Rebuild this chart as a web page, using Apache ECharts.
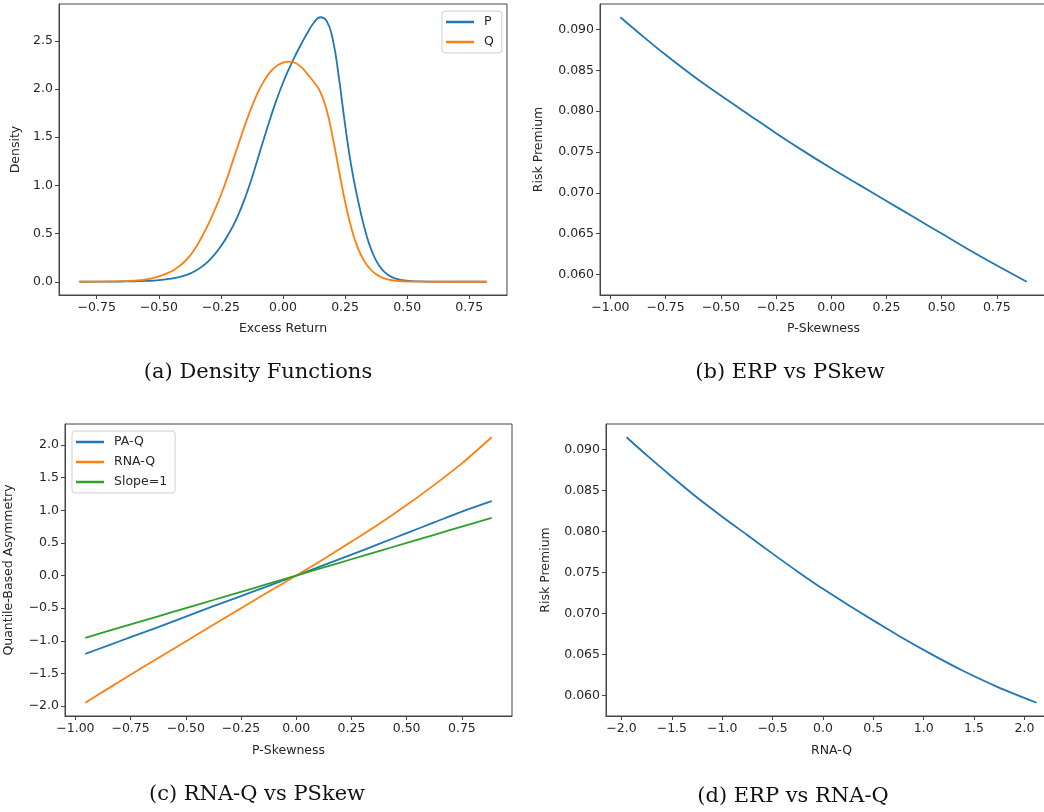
<!DOCTYPE html>
<html>
<head>
<meta charset="utf-8">
<script src="https://cdn.jsdelivr.net/npm/echarts@6/dist/echarts.min.js"></script>
<style>
    html, body { margin: 0; background: #fff; }
    #chart { width: 1044px; height: 812px; }
</style>
</head>
<body>
<div id="chart"></div>
<script>
// (a) density functions
const excessReturn = [-0.82, -0.75, -0.7, -0.65, -0.6, -0.55, -0.5,
    -0.45, -0.425, -0.4, -0.375, -0.35, -0.325, -0.3, -0.275, -0.25, -0.225, -0.2, -0.175, -0.15, -0.125, -0.1, -0.075, -0.05, -0.025,
    0, 0.025, 0.05, 0.075, 0.1, 0.125, 0.15, 0.175, 0.2, 0.225, 0.25, 0.275, 0.3, 0.325, 0.35, 0.375, 0.4, 0.425, 0.45,
    0.5, 0.55, 0.6, 0.65, 0.7, 0.75, 0.82];
const densityP = [0.0, 0.001, 0.002, 0.003, 0.005, 0.009, 0.017,
    0.033, 0.045, 0.062, 0.085, 0.117, 0.16, 0.215, 0.285, 0.37, 0.47, 0.585, 0.725, 0.89, 1.08, 1.29, 1.5, 1.705, 1.895,
    2.065, 2.215, 2.35, 2.475, 2.59, 2.69, 2.745, 2.71, 2.52, 2.12, 1.63, 1.2, 0.87, 0.59, 0.37, 0.22, 0.125, 0.068, 0.036,
    0.011, 0.004, 0.002, 0.001, 0.0, 0.0, 0.0];
const densityQ = [0.0, 0.001, 0.003, 0.006, 0.012, 0.026, 0.055,
    0.107, 0.148, 0.2, 0.27, 0.36, 0.475, 0.6, 0.745, 0.9, 1.075, 1.27, 1.46, 1.65, 1.82, 1.97, 2.09, 2.18, 2.24,
    2.275, 2.285, 2.27, 2.225, 2.15, 2.07, 1.97, 1.79, 1.5, 1.16, 0.83, 0.56, 0.36, 0.225, 0.135, 0.078, 0.043, 0.023, 0.012,
    0.003, 0.001, 0.0, 0.0, 0.0, 0.0, 0.0];

// (b), (c), (d) share the same sweep over P-skewness
const pSkew = [-0.955, -0.85, -0.75, -0.625, -0.5, -0.375, -0.25, -0.125, 0, 0.125, 0.25, 0.375, 0.5, 0.625, 0.75, 0.885];
const riskPremium = [0.0915, 0.0891, 0.0869, 0.0843, 0.0819, 0.0796, 0.0773, 0.0751, 0.0730, 0.0710, 0.0690, 0.0670, 0.0650, 0.0630, 0.0611, 0.0591];
const paQ = [-1.20, -1.07, -0.945, -0.79, -0.63, -0.47, -0.315, -0.157, 0, 0.16, 0.32, 0.485, 0.65, 0.815, 0.98, 1.14];
const rnaQ = [-1.95, -1.73, -1.52, -1.265, -1.01, -0.755, -0.50, -0.25, 0, 0.255, 0.52, 0.79, 1.08, 1.39, 1.72, 2.12];
const slopeOne = [-0.955, -0.85, -0.75, -0.625, -0.5, -0.375, -0.25, -0.125, 0, 0.125, 0.25, 0.375, 0.5, 0.625, 0.75, 0.885];

// tick labels
const densityXTicks = [-0.75, -0.5, -0.25, 0, 0.25, 0.5, 0.75];
const densityYTicks = [0, 0.5, 1.0, 1.5, 2.0, 2.5];
const skewTicks = [-1.0, -0.75, -0.5, -0.25, 0, 0.25, 0.5, 0.75];
const premiumTicks = [0.060, 0.065, 0.070, 0.075, 0.080, 0.085, 0.090];
const asymTicks = [-2.0, -1.5, -1.0, -0.5, 0, 0.5, 1.0, 1.5, 2.0];
const rnaTicks = [-2.0, -1.5, -1.0, -0.5, 0, 0.5, 1.0, 1.5, 2.0];

const FONT = 'DejaVu Sans';
const TEXT = '#262626';
const SPINE = '#444';
const BLUE = '#1f77b4', ORANGE = '#ff7f0e', GREEN = '#2ca02c';

// matplotlib style: 5% margin around the data
function padRange(values) {
    let lo = Math.min.apply(null, values);
    let hi = Math.max.apply(null, values);
    let pad = (hi - lo) * 0.05;
    return [lo - pad, hi + pad];
}

function fmt(v, digits) {
    return v.toFixed(digits).replace('-', '\u2212');
}

function pairs(xs, ys) {
    return xs.map(function (x, i) { return [x, ys[i]]; });
}

function makeAxis(gridIndex, range, ticks, digits, name, nameGap) {
    return {
        type: 'value',
        gridIndex: gridIndex,
        min: range[0],
        max: range[1],
        name: name,
        nameLocation: 'middle',
        nameGap: nameGap,
        nameTextStyle: {fontFamily: FONT, fontSize: 12.5, color: TEXT},
        axisLine: {show: true, onZero: false, lineStyle: {color: SPINE, width: 1}},
        axisTick: {show: true, inside: false, length: 4, customValues: ticks, lineStyle: {color: SPINE, width: 1}},
        axisLabel: {
            customValues: ticks,
            margin: 6,
            fontFamily: FONT,
            fontSize: 12.5,
            color: TEXT,
            formatter: function (v) { return fmt(v, digits); }
        },
        splitLine: {show: false}
    };
}

function makeGrid(left, top, width, height) {
    return {
        left: left, top: top, width: width, height: height,
        show: true, borderColor: SPINE, borderWidth: 1,
        containLabel: false, outerBoundsMode: 'none'
    };
}

function lineSeries(name, color, data, axisIndex, smooth) {
    return {
        name: name,
        type: 'line',
        xAxisIndex: axisIndex,
        yAxisIndex: axisIndex,
        data: data,
        showSymbol: false,
        smooth: smooth,
        lineStyle: {color: color, width: 1.8},
        itemStyle: {color: color},
        emphasis: {disabled: true}
    };
}

function makeLegend(names, left, top) {
    return {
        data: names,
        orient: 'vertical',
        left: left,
        top: top,
        icon: 'rect',
        itemWidth: 28,
        itemHeight: 2.5,
        itemGap: 6,
        padding: [4, 8, 4, 4],
        borderColor: '#d0d0d0',
        borderWidth: 1,
        borderRadius: 3,
        backgroundColor: '#fff',
        textStyle: {fontFamily: FONT, fontSize: 12.5, color: TEXT, lineHeight: 14, padding: [0, 0, 0, 5]}
    };
}

function caption(text, x, y) {
    return {
        type: 'text',
        x: x,
        y: y,
        style: {
            text: text,
            textAlign: 'center',
            textVerticalAlign: 'middle',
            fontFamily: 'DejaVu Serif',
            fontSize: 21,
            fill: '#111'
        }
    };
}

let myChart = echarts.init(document.getElementById('chart'), null, {renderer: 'canvas'});

let allAsym = paQ.concat(rnaQ, slopeOne);

myChart.setOption({
    animation: false,
    backgroundColor: '#fff',
    grid: [
        makeGrid(59, 4, 448, 291),
        makeGrid(600, 4, 447, 291),
        makeGrid(65, 424, 447, 292),
        makeGrid(606, 424, 451, 292)
    ],
    xAxis: [
        makeAxis(0, padRange(excessReturn), densityXTicks, 2, 'Excess Return', 27),
        makeAxis(1, padRange(pSkew), skewTicks, 2, 'P-Skewness', 27),
        makeAxis(2, padRange(pSkew), skewTicks, 2, 'P-Skewness', 28),
        makeAxis(3, padRange(rnaQ), rnaTicks, 1, 'RNA-Q', 28)
    ],
    yAxis: [
        makeAxis(0, padRange(densityP.concat(densityQ)), densityYTicks, 1, 'Density', 37),
        makeAxis(1, padRange(riskPremium), premiumTicks, 3, 'Risk Premium', 55),
        makeAxis(2, padRange(allAsym), asymTicks, 1, 'Quantile-Based Asymmetry', 50),
        makeAxis(3, padRange(riskPremium), premiumTicks, 3, 'Risk Premium', 54)
    ],
    legend: [
        makeLegend(['P', 'Q'], 442, 11),
        makeLegend(['PA-Q', 'RNA-Q', 'Slope=1'], 72, 431)
    ],
    series: [
        lineSeries('P', BLUE, pairs(excessReturn, densityP), 0, 0.5),
        lineSeries('Q', ORANGE, pairs(excessReturn, densityQ), 0, 0.5),
        lineSeries('ERP vs PSkew', BLUE, pairs(pSkew, riskPremium), 1, 0.3),
        lineSeries('PA-Q', BLUE, pairs(pSkew, paQ), 2, 0.3),
        lineSeries('RNA-Q', ORANGE, pairs(pSkew, rnaQ), 2, 0.3),
        lineSeries('Slope=1', GREEN, pairs(pSkew, slopeOne), 2, 0.3),
        lineSeries('ERP vs RNA-Q', BLUE, pairs(rnaQ, riskPremium), 3, 0.3)
    ],
    graphic: [
        caption('(a) Density Functions', 258, 373),
        caption('(b) ERP vs PSkew', 790, 373),
        caption('(c) RNA-Q vs PSkew', 257, 795),
        caption('(d) ERP vs RNA-Q', 793, 797)
    ]
});
</script>
</body>
</html>
